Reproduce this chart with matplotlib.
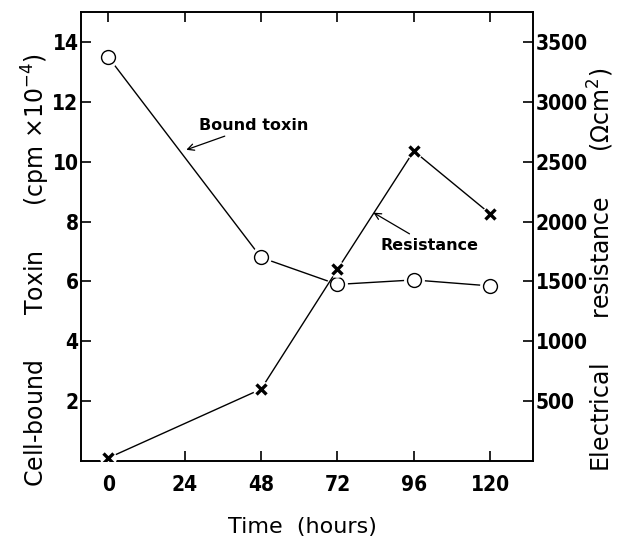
import matplotlib
matplotlib.use("Agg")
import matplotlib.pyplot as plt

# Data
hours = [0, 48, 72, 96, 120]
toxin = [13.5, 6.8, 5.9, 6.05, 5.85]          # cpm x 10^-4
resistance = [25, 600, 1600, 2590, 2065]       # Ohm cm^2

x_ticks = [0, 24, 48, 72, 96, 120]
left_ticks = [2, 4, 6, 8, 10, 12, 14]
right_ticks = [500, 1000, 1500, 2000, 2500, 3000, 3500]

plt.rcParams['font.family'] = ['DejaVu Sans']

fig = plt.figure(figsize=(6.4, 5.54), dpi=100)
ax = fig.add_axes([0.127, 0.168, 0.706, 0.81])
ax2 = ax.twinx()

ax.set_xlim(-8.5, 133.5)
ax.set_ylim(0, 15)
ax2.set_ylim(0, 3750)

# Bound toxin: line, white halo, open circles
ax.plot(hours, toxin, color='black', lw=1.0, zorder=2)
ax.plot(hours, toxin, ls='none', marker='o', ms=14, mfc='white', mec='white', zorder=3)
ax.plot(hours, toxin, ls='none', marker='o', ms=10, mfc='white', mec='black', mew=1.0, zorder=4)

# Resistance: line, white halo, crosses
ax2.plot(hours, resistance, color='black', lw=1.0, zorder=2)
ax2.plot(hours, resistance, ls='none', marker='o', ms=11, mfc='white', mec='white', zorder=3)
ax2.plot(hours, resistance, ls='none', marker='x', ms=7, mec='black', mew=2.4, zorder=4)

# Ticks
ax.set_xticks(x_ticks)
ax.set_yticks(left_ticks)
ax2.set_yticks(right_ticks)
ax.tick_params(axis='x', direction='in', top=True, length=7, width=1.2, pad=10)
ax.tick_params(axis='y', direction='in', length=7, width=1.2, pad=2)
ax2.tick_params(axis='y', direction='in', length=7, width=1.2, pad=2)
for lab in ax.get_xticklabels() + ax.get_yticklabels() + ax2.get_yticklabels():
    lab.set_fontstretch('condensed')
    lab.set_fontweight('bold')
    lab.set_fontsize(15)

for a in (ax, ax2):
    for s in a.spines.values():
        s.set_linewidth(1.2)

# Axis labels
ax.set_xlabel('Time  (hours)', fontsize=16)
ax.xaxis.set_label_coords(0.49, -0.125)
ax.set_ylabel('Cell-bound      Toxin      (cpm $\\times$10$^{-4}$)', fontsize=17,
              ha='center', va='center')
ax.yaxis.set_label_coords(-0.10, 0.425)
ax2.set_ylabel('Electrical      resistance      ($\\Omega$cm$^2$)', fontsize=17,
               rotation=90, ha='center', va='center')
ax2.yaxis.set_label_coords(1.15, 0.425)

# Annotations
ax.annotate('Bound toxin', xy=(24.5, 10.4), xytext=(28.5, 11.2),
            fontsize=11.5, fontweight='bold', ha='left', va='center',
            arrowprops=dict(arrowstyle='->', lw=0.9, color='black', shrinkA=0, shrinkB=0))
ax.annotate('Resistance', xy=(83.3, 8.3), xytext=(85.5, 7.2),
            fontsize=11.5, fontweight='bold', ha='left', va='center',
            arrowprops=dict(arrowstyle='->', lw=0.9, color='black', shrinkA=2, shrinkB=0))

fig.savefig('out.png', dpi=100)
